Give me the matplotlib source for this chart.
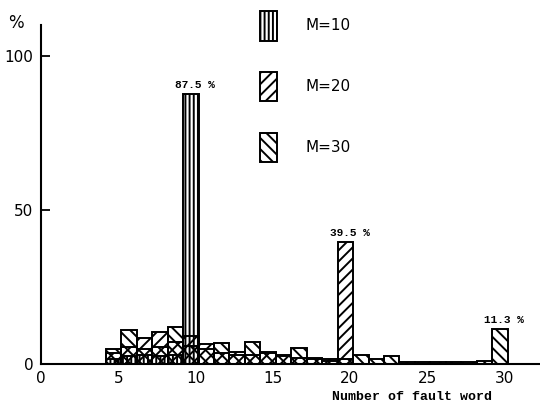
import matplotlib
matplotlib.use("Agg")
import matplotlib.pyplot as plt

# number of fault words (x) and share in % for each M
fault_words = [5, 6, 7, 8, 9, 10, 11, 12, 13, 14, 15, 16, 17, 18, 19, 20,
               21, 22, 23, 24, 25, 26, 27, 28, 29, 30]
m10 = [1.5, 2.5, 3.0, 2.5, 3.0, 87.5, 0, 0, 0, 0, 0, 0, 0, 0, 0, 0,
       0, 0, 0, 0, 0, 0, 0, 0, 0, 0]
m20 = [3.5, 5.5, 8.4, 10.5, 7.0, 9.0, 6.5, 3.5, 4.0, 3.0, 4.0, 3.0, 2.0, 2.0, 1.5, 39.5,
       0, 0, 0, 0, 0, 0, 0, 0, 0, 0]
m30 = [5.0, 11.0, 5.0, 5.5, 12.0, 6.0, 5.0, 6.9, 3.0, 7.2, 3.5, 2.5, 5.2, 1.5, 1.0, 1.5,
       3.0, 1.5, 2.5, 0.8, 0.6, 0.6, 0.6, 0.6, 1.0, 11.3]

series_labels = ["M=10", "M=20", "M=30"]
peak_words = [10, 20, 30]  # the labelled bar of each series (x = M)
hatches = ["||||", "///", "\\\\\\"]
x_ticks = [0, 5, 10, 15, 20, 25, 30]
y_ticks = [0, 50, 100]

BAR_SHIFT = -0.3  # bars in the original sit a little left of the tick
MONO = "Liberation Mono"

plt.rcParams["hatch.linewidth"] = 1.4

fig = plt.figure(figsize=(5.4, 4.05), dpi=100)
ax = fig.add_axes([41 / 540, 41 / 405, 499 / 540, 339 / 405])

xs = [x + BAR_SHIFT for x in fault_words]
bars = []
for vals, h in zip([m30, m20, m10], hatches[::-1]):
    b = ax.bar(xs, vals, width=1.0, facecolor="none", edgecolor="black",
               linewidth=1.4, hatch=h)
    bars.append(b)
bars = bars[::-1]

# peak labels
for vals, pw in zip([m10, m20, m30], peak_words):
    i = fault_words.index(pw)
    ax.annotate(f"{vals[i]} %", (xs[i], vals[i]), xytext=(3, 3),
                textcoords="offset points", ha="center", va="bottom",
                family=MONO, fontsize=8, fontweight="bold")

ax.set_xlim(0, 32.3)
ax.set_ylim(0, 110)
ax.set_xticks(x_ticks)
ax.set_yticks(y_ticks)
ax.tick_params(axis="x", length=0, pad=5, labelsize=11)
ax.tick_params(axis="y", direction="in", length=6.5, width=1.3, pad=5.5, labelsize=11)

for s in ["top", "right"]:
    ax.spines[s].set_visible(False)
for s in ["left", "bottom"]:
    ax.spines[s].set_linewidth(1.5)

ax.set_xlabel("Number of fault word", family=MONO, fontsize=9.5,
              fontweight="bold", va="center")
ax.xaxis.set_label_coords(0.7425, -0.097)

fig.text(16 / 540, 1 - 23.5 / 405, "%", ha="center", va="center", fontsize=12)

ax.legend(handles=bars, labels=series_labels, loc="upper left",
          bbox_to_anchor=(260 / 540, 1 - 11 / 405), bbox_transform=fig.transFigure,
          frameon=False, fontsize=11, handlelength=1.1, handleheight=2.6,
          labelspacing=2.05, handletextpad=1.9, borderpad=0, borderaxespad=0)

fig.savefig("out.png", dpi=100)
